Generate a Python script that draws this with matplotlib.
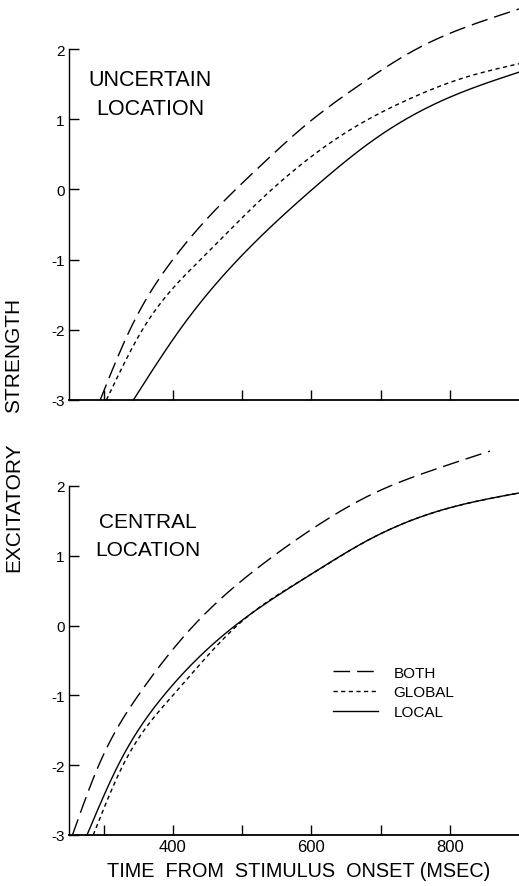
import numpy as np
import matplotlib
matplotlib.use("Agg")
import matplotlib.pyplot as plt

plt.rcParams['font.family'] = ['Liberation Sans', 'DejaVu Sans']

# upper panel: uncertain location (time in msec, excitatory strength)
unc_both_t = [295, 338, 400, 527, 591, 670, 752, 857, 900]
unc_both_v = [-3.0, -2.0, -1.0, 0.34, 0.91, 1.49, 2.0, 2.43, 2.57]
unc_global_t = [304, 356, 440, 531, 599, 670, 742, 814, 900]
unc_global_v = [-3.0, -2.0, -1.0, -0.11, 0.46, 0.93, 1.29, 1.57, 1.79]
unc_local_t = [343, 410, 494, 599, 695, 790, 900]
unc_local_v = [-3.0, -2.0, -1.0, -0.02, 0.74, 1.27, 1.67]

# lower panel: central location
cen_both_t = [255, 293, 350, 430, 527, 599, 685, 776, 858]
cen_both_v = [-3.0, -2.0, -1.0, 0.0, 0.86, 1.37, 1.87, 2.23, 2.5]
cen_global_t = [285, 328, 400, 495, 594, 685, 790, 900]
cen_global_v = [-3.0, -2.0, -1.0, 0.02, 0.7, 1.24, 1.66, 1.9]
cen_local_t = [276, 321, 387, 490, 594, 685, 790, 900]
cen_local_v = [-3.0, -2.0, -1.0, 0.0, 0.7, 1.24, 1.66, 1.9]

y_ticks = [-3, -2, -1, 0, 1, 2]
x_ticks = [300, 400, 500, 600, 700, 800]
x_labels = ['', '400', '', '600', '', '800']


def spline(t, v, n=400):
    """Natural cubic spline through the read-off points."""
    x = np.asarray(t, float)
    y = np.asarray(v, float)
    npt = len(x)
    h = np.diff(x)
    A = np.zeros((npt, npt))
    r = np.zeros(npt)
    A[0, 0] = A[-1, -1] = 1.0
    for i in range(1, npt - 1):
        A[i, i - 1] = h[i - 1]
        A[i, i] = 2 * (h[i - 1] + h[i])
        A[i, i + 1] = h[i]
        r[i] = 6 * ((y[i + 1] - y[i]) / h[i] - (y[i] - y[i - 1]) / h[i - 1])
    M = np.linalg.solve(A, r)
    xx = np.linspace(x[0], x[-1], n)
    k = np.clip(np.searchsorted(x, xx) - 1, 0, npt - 2)
    a = x[k + 1] - xx
    b = xx - x[k]
    hk = h[k]
    yy = (M[k] * a**3 / (6 * hk) + M[k + 1] * b**3 / (6 * hk)
          + (y[k] / hk - M[k] * hk / 6) * a + (y[k + 1] / hk - M[k + 1] * hk / 6) * b)
    return xx, yy


def style_axes(ax, labels):
    ax.set_xlim(250, 900)
    ax.set_ylim(-3, 2)
    ax.spines['top'].set_visible(False)
    ax.spines['right'].set_visible(False)
    ax.spines['left'].set_linewidth(1.0)
    ax.spines['bottom'].set_linewidth(1.3)
    ax.set_yticks(y_ticks)
    ax.set_yticklabels([str(v) for v in y_ticks], fontsize=11)
    ax.set_xticks(x_ticks)
    ax.set_xticklabels(labels if labels else [''] * len(x_ticks), fontsize=12)
    ax.tick_params(direction='in', length=7, width=1.0, pad=3)


fig = plt.figure(figsize=(5.19, 8.87), dpi=100)
ax1 = fig.add_axes([69 / 519, 1 - 401 / 887, 450 / 519, 351 / 887])
ax2 = fig.add_axes([69 / 519, 1 - 836 / 887, 450 / 519, 349 / 887])

both_style = dict(color='black', lw=1.0, dashes=(12, 5), clip_on=False)
global_style = dict(color='black', lw=1.0, dashes=(3, 2.5), clip_on=False)
local_style = dict(color='black', lw=1.0, clip_on=False)

ax1.plot(*spline(unc_both_t, unc_both_v), **both_style)
ax1.plot(*spline(unc_global_t, unc_global_v), **global_style)
ax1.plot(*spline(unc_local_t, unc_local_v), **local_style)
style_axes(ax1, None)
ax1.text(0.18, 0.873, 'UNCERTAIN\nLOCATION', transform=ax1.transAxes,
         fontsize=15.5, ha='center', va='center', linespacing=1.5)

ax2.plot(*spline(cen_both_t, cen_both_v), label='BOTH', **both_style)
ax2.plot(*spline(cen_global_t, cen_global_v), label='GLOBAL', **global_style)
ax2.plot(*spline(cen_local_t, cen_local_v), label='LOCAL', **local_style)
style_axes(ax2, x_labels)
ax2.text(0.175, 0.858, 'CENTRAL\nLOCATION', transform=ax2.transAxes,
         fontsize=15, ha='center', va='center', linespacing=1.55)
ax2.legend(loc='upper left', bbox_to_anchor=(0.555, 0.525), frameon=False,
           fontsize=11, handlelength=3.0, handletextpad=1.0, labelspacing=0.38)
ax2.set_xlabel('TIME  FROM  STIMULUS  ONSET (MSEC)', fontsize=14.3)
ax2.xaxis.set_label_coords(0.511, -0.075)

fig.text(14 / 519, 1 - 355 / 887, 'STRENGTH', rotation=90, fontsize=15,
         ha='center', va='center')
fig.text(14 / 519, 1 - 507 / 887, 'EXCITATORY', rotation=90, fontsize=15,
         ha='center', va='center')

fig.savefig('out.png', dpi=100)
